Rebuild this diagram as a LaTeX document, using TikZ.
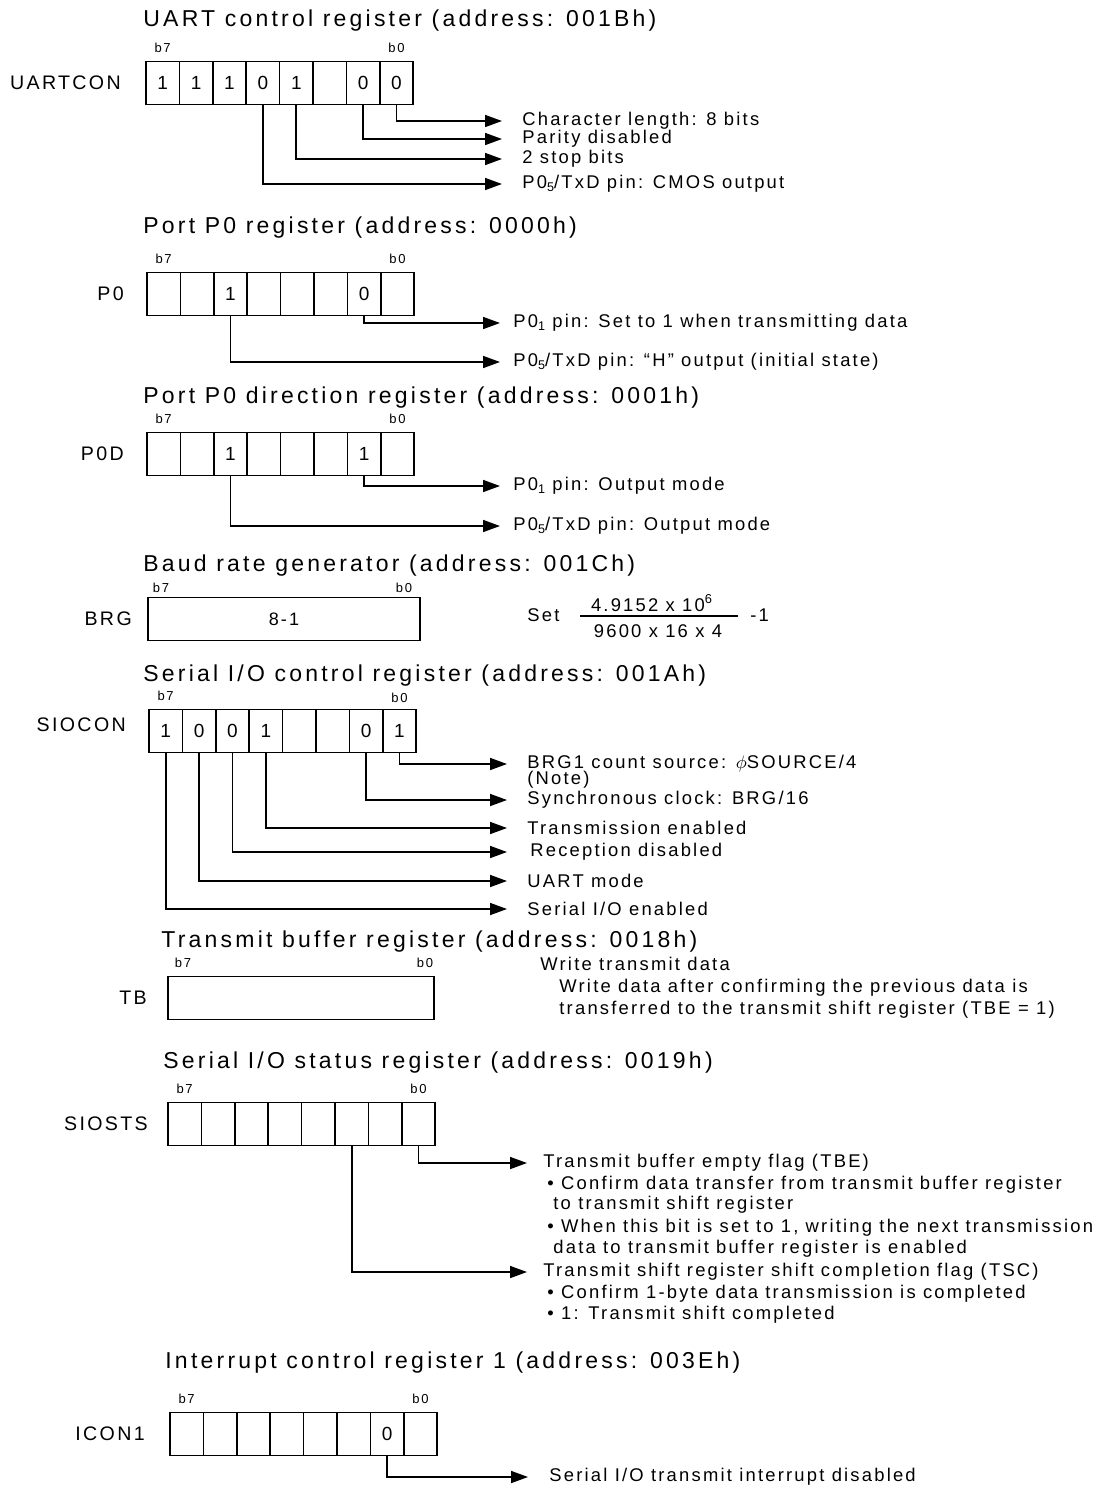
\documentclass[tikz,border=0pt]{standalone}
\usepackage{fontspec}
\setmainfont{Liberation Sans}
\newfontfamily\ttlfont[LetterSpace=14]{Liberation Sans}
\newfontfamily\txtfont[LetterSpace=12]{Liberation Sans}
\usetikzlibrary{arrows.meta,positioning}

% small port-bit digit as in P0_5
\newcommand\pinsub[1]{\raisebox{-0.25ex}{\fontsize{6.3}{6}\selectfont#1}}

\tikzset{
  cell/.style={draw, line width=0.85pt, minimum width=16.7pt, minimum height=21.5pt,
    inner sep=0pt, font=\txtfont\fontsize{9.5}{10}\selectfont},
  ttl/.style={anchor=west, inner sep=0pt, font=\ttlfont\fontsize{11.5}{12}\selectfont},
  rname/.style={anchor=east, inner sep=0pt, font=\txtfont\fontsize{9.8}{10}\selectfont},
  bnum/.style={inner sep=0pt, font=\txtfont\fontsize{6.5}{7}\selectfont},
  desc/.style={anchor=west, inner sep=0pt, font=\txtfont\fontsize{9.2}{10}\selectfont},
  sel/.style={line width=0.85pt, -{Triangle[length=8.5pt,width=6pt]}},
}

\begin{document}
\begin{tikzpicture}[x=0.5pt, y=-0.5pt]
\useasboundingbox (0,0) rectangle (1113,1489);

% UARTCON
\node[ttl] at (143,21) {UART control register (address: 001Bh)};
\foreach \v [count=\i from 0] in {1,1,1,0,1,{},0,0}
  {\pgfmathtruncatemacro\bn{7-\i}
   \node[cell] (uc\bn) at (146+33.4*\i+16.7,83) {\v};}
\node[rname, left=12pt of uc7] {UARTCON};
\node[bnum, above=4pt of uc7] {b7};
\node[bnum, above=4pt of uc0] {b0};
\coordinate (uca0) at (502,121);
\coordinate (uca1) at (502,139);
\coordinate (uca3) at (502,159);
\coordinate (uca4) at (502,184);
\node[desc, right=10pt of uca0] {Character length: 8 bits};
\node[desc, right=10pt of uca1] {Parity disabled};
\node[desc, right=10pt of uca3] {2 stop bits};
\node[desc, right=10pt of uca4] {P0\pinsub{5}/TxD pin: CMOS output};
\draw[sel] (uc0.south) |- (uca0);
\draw[sel] (uc1.south) |- (uca1);
\draw[sel] (uc3.south) |- (uca3);
\draw[sel] (uc4.south) |- (uca4);

% P0
\node[ttl] at (143,228) {Port P0 register (address: 0000h)};
\foreach \v [count=\i from 0] in {{},{},1,{},{},{},0,{}}
  {\pgfmathtruncatemacro\bn{7-\i}
   \node[cell] (pz\bn) at (147+33.4*\i+16.7,294) {\v};}
\node[rname, left=11pt of pz7] {P0};
\node[bnum, above=4pt of pz7] {b7};
\node[bnum, above=4pt of pz0] {b0};
\coordinate (pza1) at (500,323);
\coordinate (pza5) at (500,362);
\node[desc, right=6.5pt of pza1] {P0\pinsub{1} pin: Set to 1 when transmitting data};
\node[desc, right=6.5pt of pza5] {P0\pinsub{5}/TxD pin: “H” output (initial state)};
\draw[sel] (pz1.south) |- (pza1);
\draw[sel] (pz5.south) |- (pza5);

% P0D
\node[ttl] at (143,398) {Port P0 direction register (address: 0001h)};
\foreach \v [count=\i from 0] in {{},{},1,{},{},{},1,{}}
  {\pgfmathtruncatemacro\bn{7-\i}
   \node[cell] (pd\bn) at (147+33.4*\i+16.7,454) {\v};}
\node[rname, left=11pt of pd7] {P0D};
\node[bnum, above=4pt of pd7] {b7};
\node[bnum, above=4pt of pd0] {b0};
\coordinate (pda1) at (500,486);
\coordinate (pda5) at (500,526);
\node[desc, right=6.5pt of pda1] {P0\pinsub{1} pin: Output mode};
\node[desc, right=6.5pt of pda5] {P0\pinsub{5}/TxD pin: Output mode};
\draw[sel] (pd1.south) |- (pda1);
\draw[sel] (pd5.south) |- (pda5);

% BRG
\node[ttl] at (143,566) {Baud rate generator (address: 001Ch)};
\node[cell, minimum width=136pt, font=\txtfont\fontsize{9}{10}\selectfont] (brg) at (284,619) {8-1};
\node[rname, left=7.5pt of brg] {BRG};
\node[bnum] at (161,588) {b7};
\node[bnum] at (404,588) {b0};
\node[desc] (brgset) at (527,615) {Set};
\node[desc, anchor=center] (brgnum) at (652,603) {4.9152 x 10\textsuperscript{6}};
\node[desc, anchor=center] (brgden) at (658,631) {9600 x 16 x 4};
\coordinate (barl) at (580,616);
\coordinate (barr) at (738,616);
\draw[line width=0.75pt] (barl) -- (barr);
\node[desc] (brgm) at (750,615) {-1};

% SIOCON
\node[ttl] at (143,676) {Serial I/O control register (address: 001Ah)};
\foreach \v [count=\i from 0] in {1,0,0,1,{},{},0,1}
  {\pgfmathtruncatemacro\bn{7-\i}
   \node[cell] (sc\bn) at (149+33.4*\i+16.7,731) {\v};}
\node[rname, left=11pt of sc7, yshift=3pt] {SIOCON};
\node[bnum, above=4pt of sc7] {b7};
\node[bnum, above=3pt of sc0] {b0};
\coordinate (sca0) at (507,764);
\coordinate (sca1) at (507,800);
\coordinate (sca4) at (507,828);
\coordinate (sca5) at (507,852);
\coordinate (sca6) at (507,881);
\coordinate (sca7) at (507,909);
\node[desc, right=10pt of sca0] {BRG1 count source: $\phi$SOURCE/4};
\node[desc] at (527,780) {(Note)};
\node[desc, right=10pt of sca1] {Synchronous clock: BRG/16};
\node[desc, right=10pt of sca4] {Transmission enabled};
\node[desc, right=11.5pt of sca5] {Reception disabled};
\node[desc, right=10pt of sca6] {UART mode};
\node[desc, right=10pt of sca7] {Serial I/O enabled};
\draw[sel] (sc0.south) |- (sca0);
\draw[sel] (sc1.south) |- (sca1);
\draw[sel] (sc4.south) |- (sca4);
\draw[sel] (sc5.south) |- (sca5);
\draw[sel] (sc6.south) |- (sca6);
\draw[sel] (sc7.south) |- (sca7);

% TB
\node[ttl] at (161,942) {Transmit buffer register (address: 0018h)};
\node[cell, minimum width=133pt] (tb) at (301,998) {};
\node[rname, left=10pt of tb] {TB};
\node[bnum] at (183,963) {b7};
\node[bnum] at (425,963) {b0};
\node[desc] at (540,964) {Write transmit data};
\node[desc] at (559,988) {Write data after confirming the previous data is};
\node[desc] at (559,1010) {transferred to the transmit shift register (TBE = 1)};

% SIOSTS
\node[ttl] at (163,1063) {Serial I/O status register (address: 0019h)};
\foreach \i in {0,...,7}
  {\pgfmathtruncatemacro\bn{7-\i}
   \node[cell] (ss\bn) at (168+33.4*\i+16.7,1124) {};}
\node[rname, left=9.5pt of ss7] {SIOSTS};
\node[bnum, above=4pt of ss7] {b7};
\node[bnum, above=4pt of ss0] {b0};
\coordinate (ssa0) at (527,1163);
\coordinate (ssa2) at (527,1272);
\node[desc, right=8pt of ssa0] {Transmit buffer empty flag (TBE)};
\node[desc] at (547,1185) {• Confirm data transfer from transmit buffer register};
\node[desc] at (553,1205) {to transmit shift register};
\node[desc] at (547,1228) {• When this bit is set to 1, writing the next transmission};
\node[desc] at (553,1249) {data to transmit buffer register is enabled};
\node[desc, right=8pt of ssa2] {Transmit shift register shift completion flag (TSC)};
\node[desc] at (547,1294) {• Confirm 1-byte data transmission is completed};
\node[desc] at (547,1315) {• 1: Transmit shift completed};
\draw[sel] (ss0.south) |- (ssa0);
\draw[sel] (ss2.south) |- (ssa2);

% ICON1
\node[ttl] at (165,1363) {Interrupt control register 1 (address: 003Eh)};
\foreach \v [count=\i from 0] in {{},{},{},{},{},{},0,{}}
  {\pgfmathtruncatemacro\bn{7-\i}
   \node[cell] (ic\bn) at (170+33.4*\i+16.7,1434) {\v};}
\node[rname, left=12pt of ic7] {ICON1};
\node[bnum, above=4pt of ic7] {b7};
\node[bnum, above=4pt of ic0] {b0};
\coordinate (ica1) at (528,1477);
\node[desc, right=10.5pt of ica1] {Serial I/O transmit interrupt disabled};
\draw[sel] (ic1.south) |- (ica1);
\end{tikzpicture}
\end{document}
